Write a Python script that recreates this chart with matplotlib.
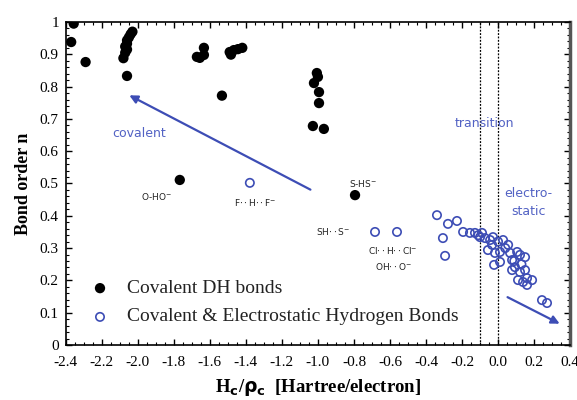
import numpy as np
import matplotlib.pyplot as plt
from matplotlib.ticker import MultipleLocator, FuncFormatter

# covalent DH bonds (filled black)
dh_x = [-2.356, -2.37, -2.29,
        -2.03, -2.04, -2.05, -2.06, -2.06, -2.07, -2.06, -2.07, -2.08, -2.06,
        -1.672, -1.656, -1.633, -1.633,
        -1.49, -1.467, -1.444, -1.42, -1.483,
        -1.533,
        -1.006, -1.0, -1.022, -0.994, -0.994, -1.028, -0.967,
        -1.767, -0.794]
dh_y = [0.995, 0.938, 0.876,
        0.97, 0.962, 0.952, 0.943, 0.933, 0.924, 0.915, 0.905, 0.888, 0.833,
        0.892, 0.889, 0.92, 0.898,
        0.907, 0.913, 0.916, 0.92, 0.899,
        0.772,
        0.842, 0.830, 0.811, 0.783, 0.749, 0.678, 0.669,
        0.511, 0.464]

# covalent & electrostatic hydrogen bonds (open blue)
hb_x = [-1.378, -0.683, -0.561,
        -0.339, -0.278, -0.228, -0.306, -0.294, -0.194, -0.156, -0.128,
        -0.089, -0.100, -0.072, -0.044, -0.028, -0.033, -0.056, -0.017,
        0.011, 0.028, 0.011, -0.022, 0.056, 0.067, 0.106, 0.122, 0.150,
        0.078, 0.094, 0.078, 0.122, 0.150, 0.111, 0.139, 0.161, 0.189,
        0.161, 0.244, 0.272, -0.11, 0.0, 0.04, 0.09, 0.13]
hb_y = [0.502, 0.350, 0.350,
        0.402, 0.375, 0.384, 0.331, 0.276, 0.350, 0.347, 0.347,
        0.347, 0.334, 0.331, 0.325, 0.334, 0.310, 0.294, 0.285,
        0.288, 0.325, 0.257, 0.248, 0.310, 0.285, 0.288, 0.279, 0.272,
        0.263, 0.241, 0.232, 0.226, 0.232, 0.201, 0.195, 0.186, 0.201,
        0.207, 0.139, 0.130, 0.34, 0.32, 0.30, 0.26, 0.25]

blue = '#3d4db5'
serif = ['Liberation Serif', 'DejaVu Serif']

fig = plt.figure(figsize=(5.77, 4.0), dpi=100)
ax = fig.add_axes([0.114, 0.1375, 0.874, 0.8075])

ax.scatter(dh_x, dh_y, s=55, c='black', edgecolors='none', zorder=3)
ax.scatter(hb_x, hb_y, s=36, facecolors='none', edgecolors=blue,
           linewidths=1.2, zorder=3)

ax.axvline(-0.1, color='black', ls=(0, (1.5, 1.2)), lw=0.9)
ax.axvline(0.0, color='black', ls=(0, (1.5, 1.2)), lw=0.9)

ax.annotate('', xy=(-2.061, 0.777), xytext=(-1.028, 0.477),
            arrowprops=dict(arrowstyle='-|>', color=blue, lw=1.6,
                            mutation_scale=12))
ax.annotate('', xy=(0.356, 0.062), xytext=(0.039, 0.152),
            arrowprops=dict(arrowstyle='-|>', color=blue, lw=1.6,
                            mutation_scale=12))

ax.text(-1.99, 0.656, 'covalent', color='#5262c4', fontsize=9,
        ha='center', va='center')
ax.text(-0.078, 0.687, 'transition', color='#5262c4', fontsize=9,
        ha='center', va='center')
ax.text(0.17, 0.47, 'electro-', color='#5262c4', fontsize=9,
        ha='center', va='center')
ax.text(0.17, 0.414, 'static', color='#5262c4', fontsize=9,
        ha='center', va='center')

lab = dict(fontsize=6.5, ha='center', va='center', color='#222222')
ax.text(-1.894, 0.461, 'O-HO$^{-}$', **lab)
ax.text(-1.35, 0.44, 'F$\\cdot\\cdot$H$\\cdot\\cdot$F$^{-}$', **lab)
ax.text(-0.75, 0.50, 'S-HS$^{-}$', **lab)
ax.text(-0.917, 0.35, 'SH$\\cdot\\cdot$S$^{-}$', **lab)
ax.text(-0.583, 0.294, 'Cl$\\cdot\\cdot$H$\\cdot\\cdot$Cl$^{-}$', **lab)
ax.text(-0.583, 0.242, 'OH$\\cdot\\cdot$O$^{-}$', **lab)

# legend drawn by hand
ax.scatter([-2.21], [0.176], s=55, c='black', edgecolors='none')
ax.scatter([-2.21], [0.087], s=36, facecolors='none', edgecolors=blue,
           linewidths=1.2)
ax.text(-2.06, 0.176, 'Covalent DH bonds', family=serif, fontsize=14,
        va='center', color='#222222')
ax.text(-2.06, 0.087, 'Covalent & Electrostatic Hydrogen Bonds', family=serif,
        fontsize=14, va='center', color='#222222')

ax.set_xlim(-2.4, 0.4)
ax.set_ylim(0, 1)
ax.xaxis.set_major_locator(MultipleLocator(0.2))
ax.xaxis.set_minor_locator(MultipleLocator(0.05))
ax.yaxis.set_major_locator(MultipleLocator(0.1))
ax.yaxis.set_minor_locator(MultipleLocator(0.02))
ax.xaxis.set_major_formatter(FuncFormatter(lambda v, p: '0.0' if abs(v) < 1e-9 else f'{v:.1f}'))
ax.yaxis.set_major_formatter(FuncFormatter(lambda v, p: '0' if abs(v) < 1e-9 else ('1' if abs(v - 1) < 1e-9 else f'{v:.1f}')))
ax.tick_params(which='both', direction='in', top=True, right=True)
ax.tick_params(which='major', length=4, width=1)
ax.tick_params(which='minor', length=2, width=0.8)
ax.tick_params(axis='x', which='major', pad=8)
ax.tick_params(axis='y', which='major', pad=5)
for t in ax.get_xticklabels() + ax.get_yticklabels():
    t.set_family(serif)
    t.set_fontsize(11)
for s in ax.spines.values():
    s.set_linewidth(1.2)
ax.spines['right'].set_linewidth(2.5)
ax.spines['right'].set_color('#555555')

ax.set_xlabel('H$_\\mathbf{c}$/$\\mathbf{\\rho}_\\mathbf{c}$  [Hartree/electron]',
              family=serif, fontsize=13.5, fontweight='bold', labelpad=6)
ax.set_ylabel('Bond order n', family=serif, fontsize=13, fontweight='bold',
              labelpad=6)

fig.savefig('out.png', dpi=100)
